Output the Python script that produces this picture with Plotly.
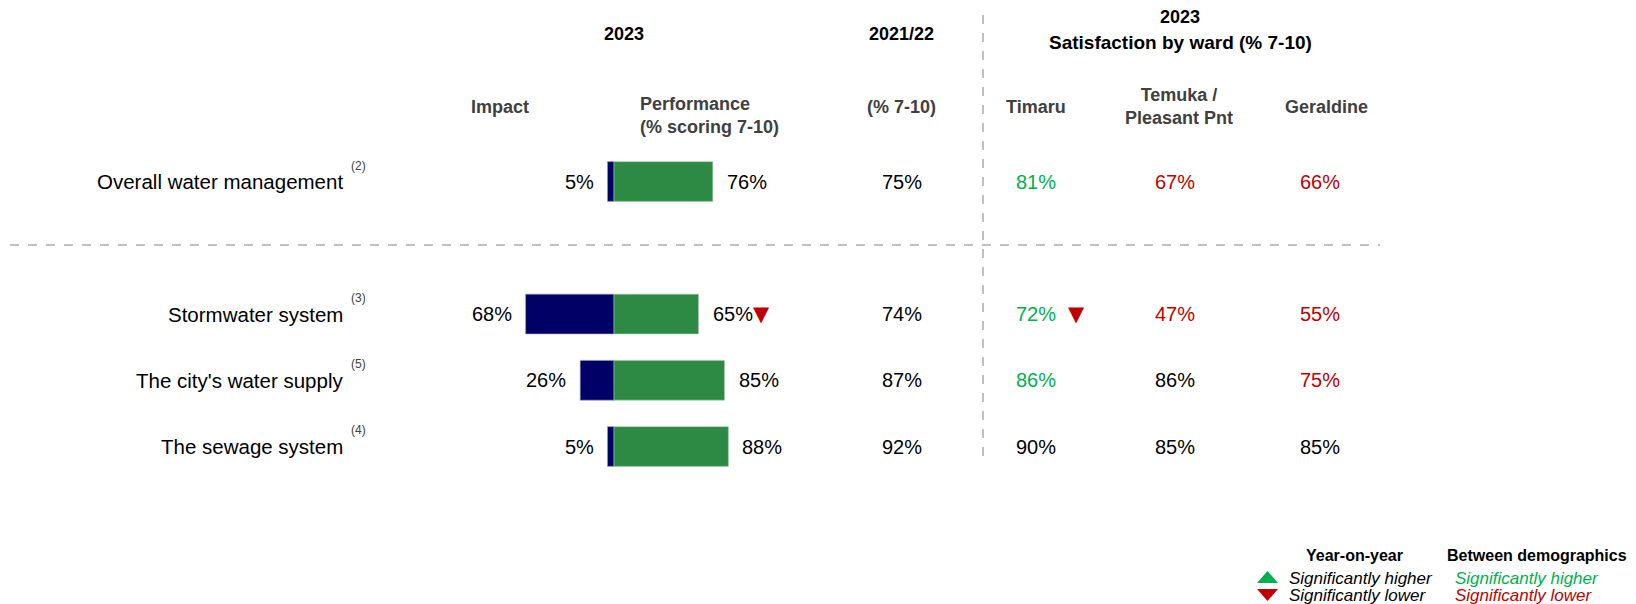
import plotly.graph_objects as go

# ---------------- data ----------------
items = ["Overall water management", "Stormwater system",
         "The city's water supply", "The sewage system"]
notes = ["(2)", "(3)", "(5)", "(4)"]
row_pos = [0, 2, 3, 4]
impact = [5, 68, 26, 5]
performance = [76, 65, 85, 88]
perf_yoy = [None, "down", None, None]
prev_year = [75, 74, 87, 92]
ward_names = ["Timaru", "Temuka /<br>Pleasant Pnt", "Geraldine"]
timaru = [81, 72, 86, 90]
temuka = [67, 47, 86, 85]
geraldine = [66, 55, 75, 85]
timaru_sig = ["higher", "higher", "higher", None]
temuka_sig = ["lower", "lower", None, None]
geraldine_sig = ["lower", "lower", "lower", None]
timaru_yoy = [None, "down", None, None]

# ---------------- style ----------------
W, H = 1636, 604
NAVY = "#000066"
GREEN_BAR = "#2D8A44"
SIG_GREEN = "#00B050"
SIG_RED = "#C00000"
FONT = "Liberation Sans, Arial, sans-serif"
TRI_FONT = "DejaVu Sans, sans-serif"

ZERO_PX = 614
PX_PER_PCT = 1.30
ROW0_PX = 181.5
PX_PER_ROW = 66.25

x_range = [-ZERO_PX / PX_PER_PCT, (W - ZERO_PX) / PX_PER_PCT]
y_range = [(H - ROW0_PX) / PX_PER_ROW, -ROW0_PX / PX_PER_ROW]


def px(x):
    return x / W


def py(y):
    return 1 - y / H


def row_y(i):
    return ROW0_PX + row_pos[i] * PX_PER_ROW


fig = go.Figure()
fig.add_trace(go.Bar(y=row_pos, x=[-v for v in impact], orientation="h",
                     marker=dict(color=NAVY, line=dict(color="#8f9bbf", width=0.6)),
                     width=0.6, name="Impact", hoverinfo="skip"))
fig.add_trace(go.Bar(y=row_pos, x=performance, orientation="h",
                     marker=dict(color=GREEN_BAR, line=dict(color="#a9c9b2", width=0.6)),
                     width=0.6, name="Performance", hoverinfo="skip"))

ann = []


def text(x, y, s, size=19, color="#000000", bold=False, italic=False,
         xanchor="center", align="center", family=FONT):
    if bold:
        s = "<b>" + s + "</b>"
    if italic:
        s = "<i>" + s + "</i>"
    ann.append(dict(x=px(x), y=py(y), xref="paper", yref="paper", text=s,
                    showarrow=False, xanchor=xanchor, yanchor="middle", align=align,
                    font=dict(family=family, size=size, color=color)))


# headers
HDR = 18
text(624, 34, "2023", HDR, bold=True)
text(500, 107, "Impact", HDR, "#404040", bold=True)
text(638, 116, "Performance<br>(% scoring 7-10)", HDR, "#404040", bold=True,
     xanchor="left", align="left")
text(902, 34, "2021/22", HDR, bold=True)
text(902, 107, "(% 7-10)", HDR, "#404040", bold=True)
text(1180, 17, "2023", HDR, bold=True)
text(1180, 43, "Satisfaction by ward (% 7-10)", 19, bold=True)
ward_hdr_x = [1036, 1179, 1326]
for name, xh in zip(ward_names, ward_hdr_x):
    text(xh, 107, name, HDR, "#404040", bold=True)

# row labels + superscripts
for i, (lab, note) in enumerate(zip(items, notes)):
    text(345, row_y(i), lab, 20.5, "#000000", xanchor="right", align="right")
    text(358, row_y(i) - 16, note, 12, "#404040")

# bar value labels (data-anchored)
for i in range(len(items)):
    ann.append(dict(x=-impact[i], y=row_pos[i], xref="x", yref="y",
                    text=f"{impact[i]}%", showarrow=False, xanchor="right",
                    yanchor="middle", xshift=-12,
                    font=dict(family=FONT, size=20, color="#000000")))
    lbl = f"{performance[i]}%"
    if perf_yoy[i] == "down":
        lbl += ("<span style='font-family:DejaVu Sans;font-size:21px;color:%s'>&#9660;</span>"
                % SIG_RED)
    ann.append(dict(x=performance[i], y=row_pos[i], xref="x", yref="y",
                    text=lbl, showarrow=False, xanchor="left",
                    yanchor="middle", xshift=12,
                    font=dict(family=FONT, size=20, color="#000000")))

# previous year column
for i in range(len(items)):
    text(902, row_y(i), f"{prev_year[i]}%", 20)

# ward columns
sig_col = {"higher": SIG_GREEN, "lower": SIG_RED, None: "#000000"}
ward_val_x = [1036, 1175, 1320]
for vals, sigs, xv in zip([timaru, temuka, geraldine],
                          [timaru_sig, temuka_sig, geraldine_sig], ward_val_x):
    for i in range(len(items)):
        text(xv, row_y(i), f"{vals[i]}%", 20, sig_col[sigs[i]])
for i in range(len(items)):
    if timaru_yoy[i] == "down":
        text(1076, row_y(i), "&#9660;", 21, SIG_RED, family=TRI_FONT)

# legend
text(1354, 555, "Year-on-year", 16, bold=True)
text(1537, 555, "Between demographics", 16, bold=True)
text(1287, 578, "Significantly higher", 17, "#000000", italic=True, xanchor="left")
text(1287, 595, "Significantly lower", 17, "#000000", italic=True, xanchor="left")
text(1453, 578, "Significantly higher", 17, SIG_GREEN, italic=True, xanchor="left")
text(1453, 595, "Significantly lower", 17, SIG_RED, italic=True, xanchor="left")


def tri_path(xl, xr, ytop, ybot, up=True):
    xm = (xl + xr) / 2
    if up:
        pts = [(xl, ybot), (xr, ybot), (xm, ytop)]
    else:
        pts = [(xl, ytop), (xr, ytop), (xm, ybot)]
    return "M " + " L ".join(f"{px(a):.5f},{py(b):.5f}" for a, b in pts) + " Z"


shapes = [
    dict(type="line", xref="paper", yref="paper", x0=px(983), x1=px(983),
         y0=py(15), y1=py(465), line=dict(color="#808080", width=1, dash="dash")),
    dict(type="line", xref="paper", yref="paper", x0=px(10), x1=px(1380),
         y0=py(245), y1=py(245), line=dict(color="#808080", width=1, dash="dash")),
    dict(type="path", xref="paper", yref="paper", path=tri_path(1257, 1278, 571, 583, True),
         fillcolor=SIG_GREEN, line=dict(width=0)),
    dict(type="path", xref="paper", yref="paper", path=tri_path(1257, 1278, 589, 601, False),
         fillcolor=SIG_RED, line=dict(width=0)),
]

fig.update_layout(
    width=W, height=H, margin=dict(l=0, r=0, t=0, b=0),
    paper_bgcolor="white", plot_bgcolor="white",
    barmode="relative", showlegend=False,
    xaxis=dict(range=x_range, visible=False, fixedrange=True),
    yaxis=dict(range=y_range, visible=False, fixedrange=True),
    annotations=ann, shapes=shapes, font=dict(family=FONT),
)

fig.write_html("out.html", config={"displayModeBar": False},
               post_script="document.body.style.margin='0';document.body.style.overflow='hidden';")
